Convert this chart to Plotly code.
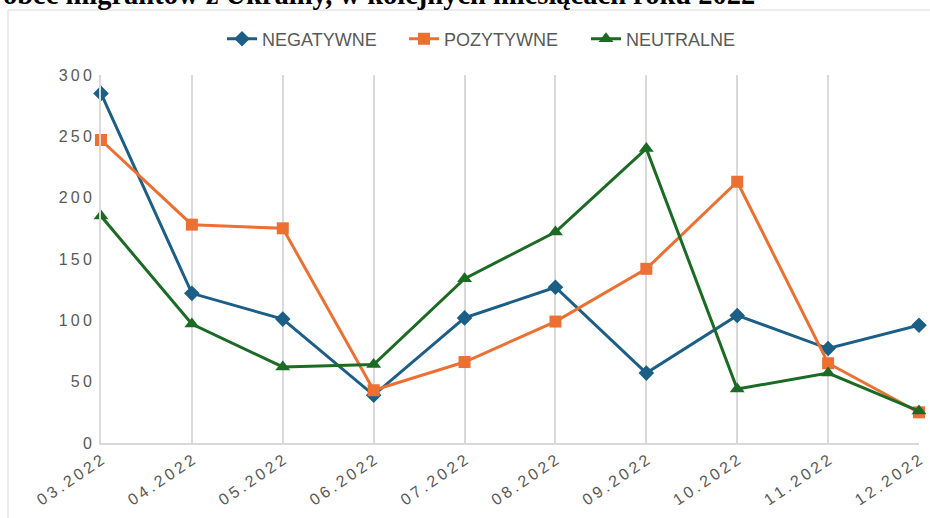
import plotly.graph_objects as go

categories = ["03.2022", "04.2022", "05.2022", "06.2022", "07.2022",
              "08.2022", "09.2022", "10.2022", "11.2022", "12.2022"]
negatywne = [285, 122, 101, 39, 102, 127, 57, 104, 77, 96]
pozytywne = [247, 178, 175, 43, 66, 99, 142, 213, 65, 25]
neutralne = [185, 97, 62, 64, 134, 172, 240, 44, 57, 26]
y_ticks = [0, 50, 100, 150, 200, 250, 300]
title_text = "obec migrantów z Ukrainy, w kolejnych miesiącach roku 2022"

SP = "\u2009"
def spaced(s):
    return SP.join(list(str(s)))

W, H = 930, 518
L, R, T, B = 101, 11, 75, 75
pw, ph = W - L - R, H - T - B
def px_x(x):
    return (x - L) / pw
def px_y(y):
    return (H - B - y) / ph

fig = go.Figure()
series = [
    ("NEGATYWNE", negatywne, "#1c5f86", "diamond", 12),
    ("POZYTYWNE", pozytywne, "#ed7032", "square", 12),
    ("NEUTRALNE", neutralne, "#1c6b25", "triangle-up", 13),
]
for name, vals, col, sym, sz in series:
    fig.add_trace(go.Scatter(
        x=categories, y=vals, name=name, mode="lines+markers",
        line=dict(color=col, width=3),
        marker=dict(symbol=sym, size=sz, color=col),
        cliponaxis=False,
    ))

fig.update_layout(
    width=W, height=H,
    margin=dict(l=L, r=R, t=T, b=B, autoexpand=False),
    paper_bgcolor="white", plot_bgcolor="white",
    font=dict(family="Liberation Sans, Arial, sans-serif", color="#595959"),
    showlegend=True,
    legend=dict(orientation="h", x=px_x(222), y=px_y(39),
                xanchor="left", yanchor="middle",
                entrywidth=137, entrywidthmode="pixels",
                font=dict(size=18, color="#595959"),
                bgcolor="rgba(0,0,0,0)"),
    xaxis=dict(
        type="category", range=[0, len(categories) - 1], automargin=False,
        tickvals=categories, ticktext=[spaced(c) for c in categories],
        tickangle=-34, tickfont=dict(size=16, color="#595959"),
        showgrid=True, gridcolor="#d9d9d9", gridwidth=2,
        showline=True, linecolor="#d9d9d9", linewidth=2,
        ticks="", zeroline=False,
    ),
    yaxis=dict(
        range=[0, 300], tickvals=y_ticks, automargin=False,
        ticktext=[spaced(v) for v in y_ticks],
        tickfont=dict(size=16, color="#595959"),
        showgrid=False, showline=True, linecolor="#d9d9d9", linewidth=2,
        ticks="", zeroline=False, ticklabelstandoff=4,
    ),
    shapes=[dict(type="rect", xref="paper", yref="paper",
                 x0=px_x(8), x1=px_x(960), y0=px_y(10), y1=px_y(600),
                 line=dict(color="#d9d9d9", width=1), fillcolor="rgba(0,0,0,0)",
                 layer="below")],
    annotations=[dict(text=title_text, xref="paper", yref="paper",
                      x=px_x(757), y=px_y(12), xanchor="right", yanchor="bottom",
                      showarrow=False,
                      font=dict(family="Liberation Serif, serif", size=28.5,
                                color="#000000", weight="bold"))],
)

fig.write_html("out.html", config={"displayModeBar": False},
               post_script="document.body.style.margin='0';document.body.style.overflow='hidden';")
